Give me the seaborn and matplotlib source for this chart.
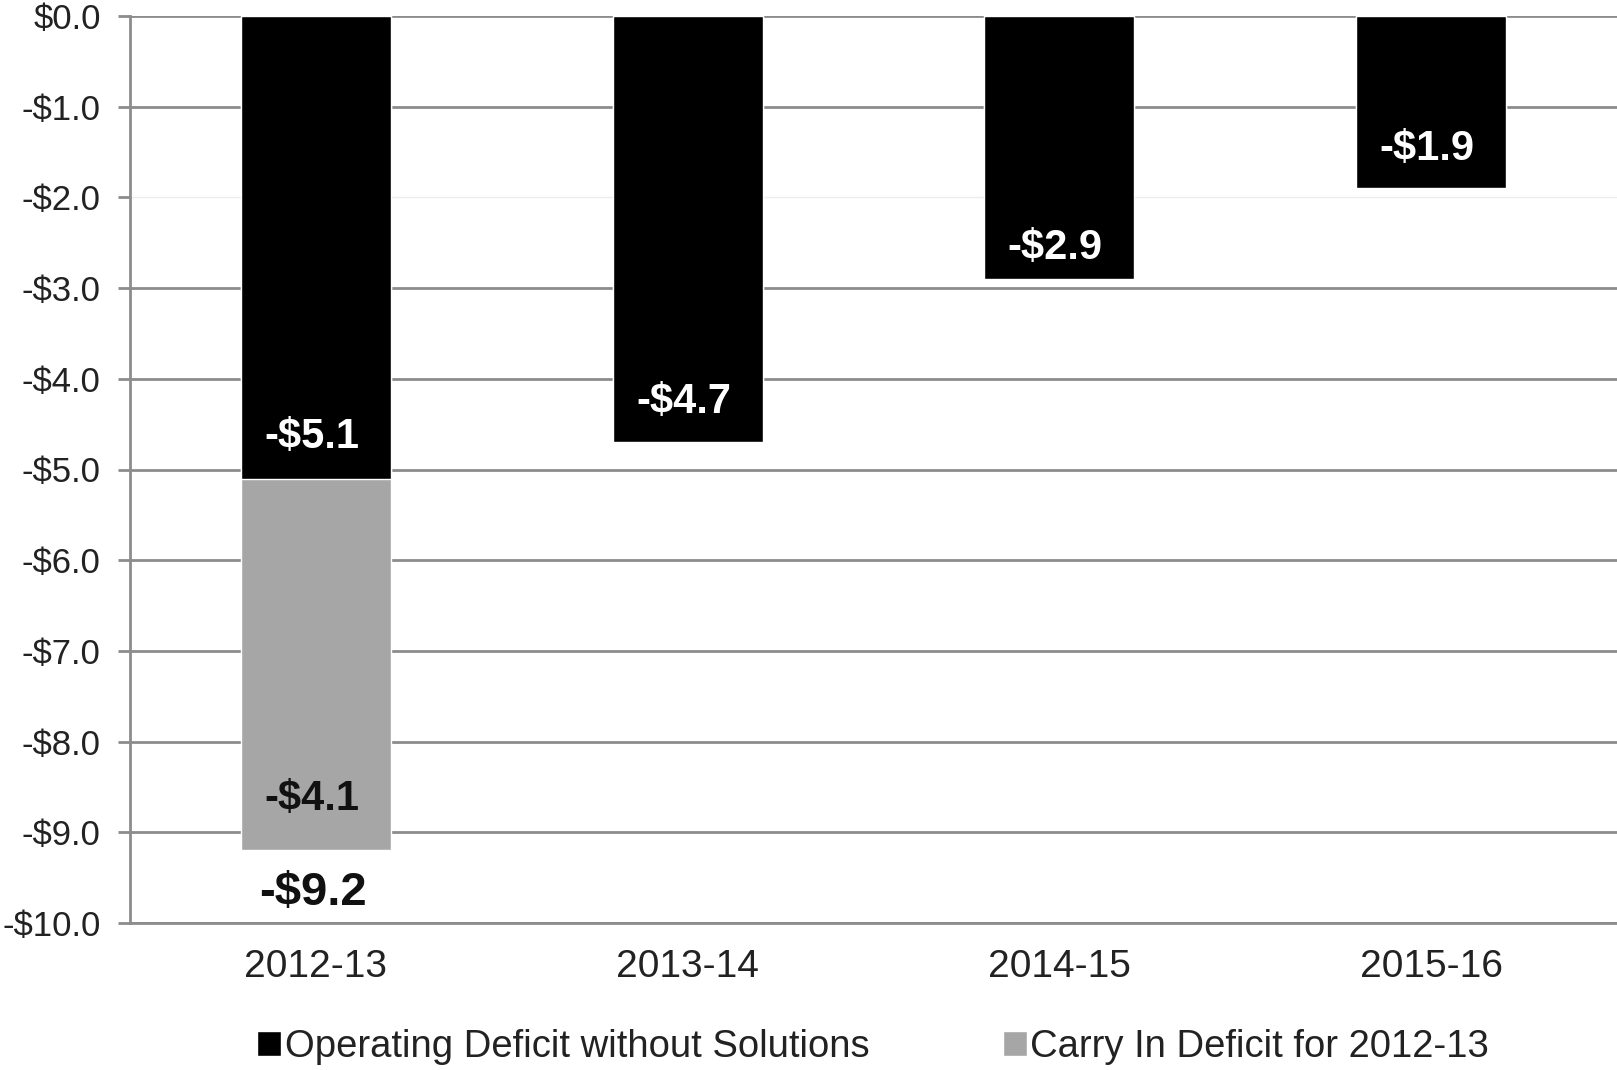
import numpy as np
import pandas as pd
import matplotlib.pyplot as plt
import seaborn as sns
from matplotlib.patches import Patch
from matplotlib.ticker import FuncFormatter

years = ["2012-13", "2013-14", "2014-15", "2015-16"]
operating = [-5.1, -4.7, -2.9, -1.9]
carry_in = [-4.1, 0.0, 0.0, 0.0]
series_names = ["Operating Deficit without Solutions", "Carry In Deficit for 2012-13"]

df = pd.DataFrame({"year": years, "operating": operating, "carry_in": carry_in})
df["total"] = df["operating"] + df["carry_in"]

sns.set_style("white")
plt.rcParams["font.family"] = ["Liberation Sans", "DejaVu Sans"]

black = "#000000"
gray = "#a6a6a6"
gridc = "#8c8c8c"

fig = plt.figure(figsize=(16.17, 10.7), dpi=100)
ax = fig.add_axes([130 / 1617, 1 - 923 / 1070, 1 - 130 / 1617, (923 - 16) / 1070])

# stacked look: total in gray first, operating in black on top
sns.barplot(data=df, x="year", y="total", color=gray, saturation=1, width=0.403, ax=ax, zorder=3)
sns.barplot(data=df, x="year", y="operating", color=black, saturation=1, width=0.403, ax=ax, zorder=4)

ax.set_ylim(-10, 0)
ax.set_xlim(-0.5, 3.5)
yt = np.arange(-10, 0.1, 1)
ax.set_yticks(yt)
ax.yaxis.set_major_formatter(FuncFormatter(lambda v, p: ("-" if v < -0.01 else "") + "$%.1f" % abs(v)))
ax.grid(axis="y", color=gridc, linewidth=2, zorder=0)
# the -2 gridline is nearly invisible in the original
for v, gl in zip(yt, ax.get_ygridlines()):
    if abs(v + 2) < 0.01:
        gl.set_color("#ececec")
        gl.set_linewidth(1)
ax.set_axisbelow(True)
ax.set_xlabel("")
ax.set_ylabel("")
for s in ["top", "right"]:
    ax.spines[s].set_visible(False)
for s in ["left", "bottom"]:
    ax.spines[s].set_color(gridc)
    ax.spines[s].set_linewidth(2)
ax.tick_params(axis="y", left=True, length=9, width=2, color=gridc, pad=12, labelsize=25, labelcolor="#222222")
ax.tick_params(axis="x", bottom=False, pad=15, labelsize=28, labelcolor="#222222")

# value labels inside bar ends
offs = [30, 29, 22, 28]
for i, v in enumerate(df["operating"]):
    ax.annotate("-$%.1f" % abs(v), (i, v), xytext=(-3, offs[i]), textcoords="offset points",
                ha="center", va="center", color="white", fontsize=30, fontweight="bold", zorder=5)
for i, (c, t) in enumerate(zip(df["carry_in"], df["total"])):
    if c < 0:
        ax.annotate("-$%.1f" % abs(c), (i, t), xytext=(-3, 37), textcoords="offset points",
                    ha="center", va="center", color="#111111", fontsize=30, fontweight="bold", zorder=5)
        ax.annotate("-$%.1f" % abs(t), (i, t), xytext=(-2, -31), textcoords="offset points",
                    ha="center", va="center", color="#111111", fontsize=34, fontweight="bold",
                    zorder=5, annotation_clip=False)

handles = [Patch(facecolor=black), Patch(facecolor=gray)]
fig.legend(handles, series_names, loc="center", bbox_to_anchor=(0.54, 1 - 1047 / 1070), ncol=2,
           frameon=False, fontsize=27.5, handlelength=0.62, handleheight=0.62,
           handletextpad=0.1, columnspacing=3.5, labelcolor="#222222")

fig.savefig("out.png", dpi=100)
